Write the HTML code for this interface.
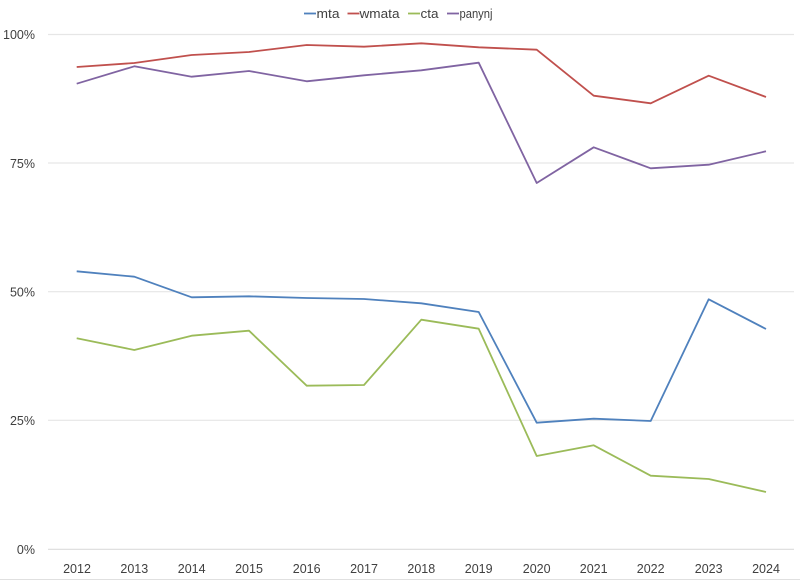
<!DOCTYPE html>
<html>
<head>
<meta charset="utf-8">
<style>
  html,body{margin:0;padding:0;background:#fff;}
  svg{display:block;}
  text{font-family:"Liberation Sans",sans-serif;fill:#404040;}
</style>
</head>
<body>
<svg width="800" height="580" viewBox="0 0 800 580" xmlns="http://www.w3.org/2000/svg">
  <rect width="800" height="580" fill="#fff"/>
  <!-- gridlines -->
  <g stroke="#e6e6e6" stroke-width="1.2">
    <line x1="48" y1="34.5" x2="794" y2="34.5"/>
    <line x1="48" y1="163" x2="794" y2="163"/>
    <line x1="48" y1="291.7" x2="794" y2="291.7"/>
    <line x1="48" y1="420.3" x2="794" y2="420.3"/>
  </g>
  <line x1="48" y1="549.3" x2="794" y2="549.3" stroke="#dcdcdc" stroke-width="1.2"/>
  <line x1="0" y1="579.5" x2="800" y2="579.5" stroke="#e0e0e0" stroke-width="1"/>

  <!-- y labels -->
  <g font-size="12.5" text-anchor="end">
    <text x="35" y="39">100%</text>
    <text x="35" y="168">75%</text>
    <text x="35" y="296.5">50%</text>
    <text x="35" y="425">25%</text>
    <text x="35" y="554">0%</text>
  </g>
  <!-- x labels -->
  <g font-size="12.5" text-anchor="middle">
    <text x="77" y="573">2012</text>
    <text x="134.3" y="573">2013</text>
    <text x="191.7" y="573">2014</text>
    <text x="249" y="573">2015</text>
    <text x="306.7" y="573">2016</text>
    <text x="364" y="573">2017</text>
    <text x="421.3" y="573">2018</text>
    <text x="478.7" y="573">2019</text>
    <text x="536.7" y="573">2020</text>
    <text x="593.7" y="573">2021</text>
    <text x="650.7" y="573">2022</text>
    <text x="708.7" y="573">2023</text>
    <text x="766" y="573">2024</text>
  </g>

  <!-- series -->
  <g fill="none" stroke-width="1.8" stroke-linejoin="round">
    <polyline stroke="#C0504D" points="76.7,67 134.3,63 191.7,55 249,52 306.7,45 364,46.7 421.3,43.3 478.7,47.3 536.7,49.7 593.7,95.7 650.7,103.3 708.7,75.7 766,97"/>
    <polyline stroke="#8064A2" points="76.7,83.7 134.3,66.3 191.7,76.7 249,71 306.7,81.3 364,75.3 421.3,70.3 478.7,62.7 536.7,183 593.7,147.3 650.7,168.3 708.7,164.7 766,151.3"/>
    <polyline stroke="#4F81BD" points="76.7,271.3 134.3,276.7 191.7,297.3 249,296.3 306.7,298 364,299 421.3,303.3 478.7,312 536.7,422.7 593.7,418.7 650.7,421 708.7,299.3 766,329"/>
    <polyline stroke="#9BBB59" points="76.7,338.3 134.3,350 191.7,335.7 249,330.7 306.7,385.7 364,385 421.3,319.7 478.7,328.7 536.7,456 593.7,445.3 650.7,475.7 708.7,479 766,492"/>
  </g>

  <!-- legend -->
  <g stroke-width="1.8">
    <line x1="304" y1="13.5" x2="316" y2="13.5" stroke="#4F81BD"/>
    <line x1="347.5" y1="13.5" x2="359.5" y2="13.5" stroke="#C0504D"/>
    <line x1="408" y1="13.5" x2="420" y2="13.5" stroke="#9BBB59"/>
    <line x1="447" y1="13.5" x2="459" y2="13.5" stroke="#8064A2"/>
  </g>
  <g font-size="13">
    <text x="316.5" y="18" textLength="23" lengthAdjust="spacingAndGlyphs">mta</text>
    <text x="359.5" y="18" textLength="40" lengthAdjust="spacingAndGlyphs">wmata</text>
    <text x="420.5" y="18" textLength="18" lengthAdjust="spacingAndGlyphs">cta</text>
    <text x="459.5" y="18" textLength="33" lengthAdjust="spacingAndGlyphs">panynj</text>
  </g>
</svg>
</body>
</html>
